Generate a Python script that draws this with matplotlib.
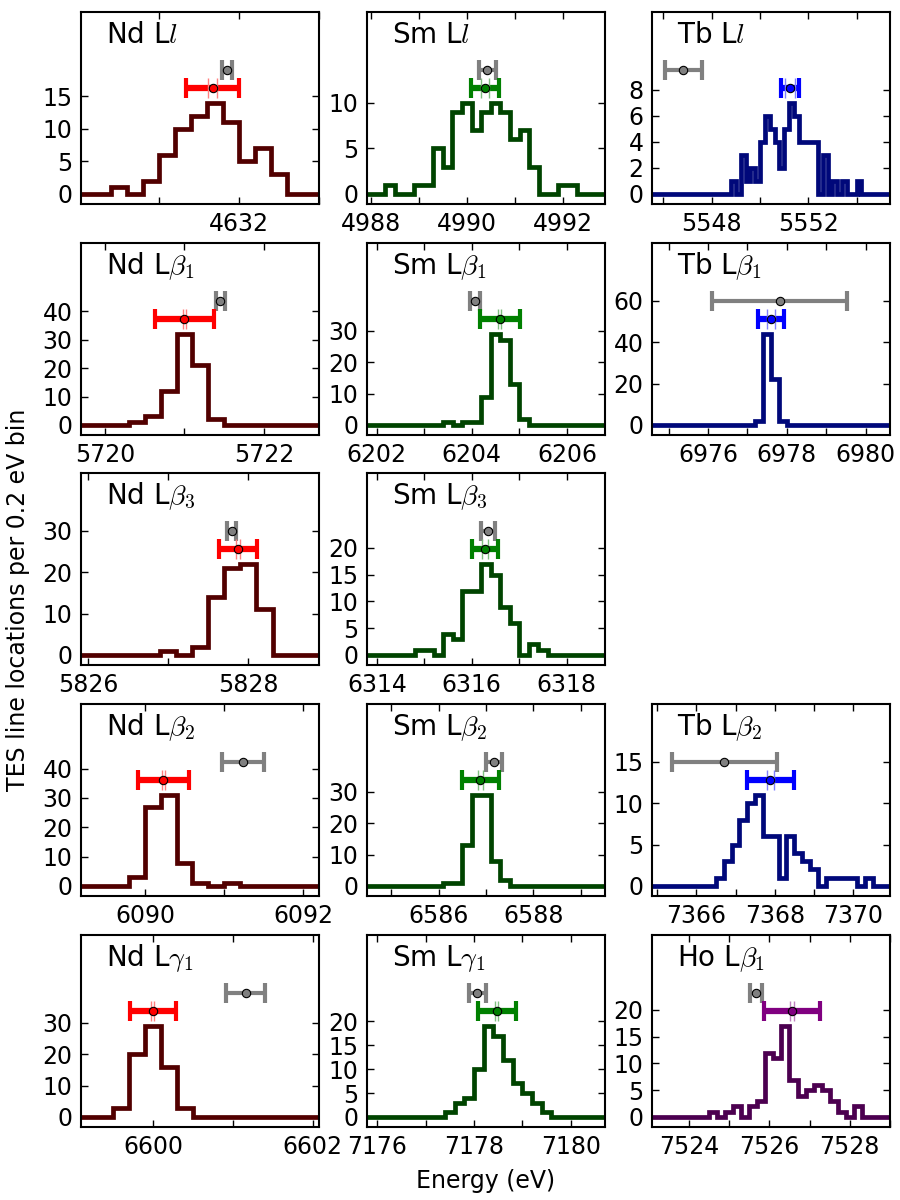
import numpy as np
import matplotlib
matplotlib.use('Agg')
import matplotlib.pyplot as plt
from matplotlib.colors import to_rgb

plt.rcParams['font.family'] = 'DejaVu Sans'
plt.rcParams['mathtext.fontset'] = 'cm'
plt.rcParams['xtick.direction'] = 'in'
plt.rcParams['ytick.direction'] = 'in'
plt.rcParams['xtick.top'] = True
plt.rcParams['ytick.right'] = True
plt.rcParams['xtick.major.size'] = 5
plt.rcParams['ytick.major.size'] = 5
plt.rcParams['axes.linewidth'] = 1.5

BIN = 0.2

# panels in row-major order, None = empty slot
titles = ['Nd L$l$', 'Sm L$l$', 'Tb L$l$',
          r'Nd L$\beta_1$', r'Sm L$\beta_1$', r'Tb L$\beta_1$',
          r'Nd L$\beta_3$', r'Sm L$\beta_3$', None,
          r'Nd L$\beta_2$', r'Sm L$\beta_2$', r'Tb L$\beta_2$',
          r'Nd L$\gamma_1$', r'Sm L$\gamma_1$', r'Ho L$\beta_1$']

elements = ['Nd', 'Sm', 'Tb', 'Nd', 'Sm', 'Tb', 'Nd', 'Sm', None,
            'Nd', 'Sm', 'Tb', 'Nd', 'Sm', 'Ho']

xlims = [(4630.02, 4633.0), (4987.92, 4992.88), (5545.53, 5555.38),
         (5719.7, 5722.69), (6201.8, 6206.8), (6974.58, 6980.62),
         (5825.91, 5828.88), (6313.79, 6318.81), None,
         (6089.19, 6092.2), (6584.49, 6589.51), (7364.87, 7370.94),
         (6599.1, 6602.08), (7175.79, 7180.71), (7523.08, 7529.0)]

xtick_steps = [1, 1, 2, 1, 1, 1, 1, 1, None, 1, 1, 1, 1, 1, 1]

# first bin edge of each histogram (0.2 eV bins)
bin_starts = [4630.4, 4988.3, 5548.8,
              5720.3, 6203.4, 6977.2,
              5826.9, 6314.8, None,
              6089.8, 6586.1, 7366.5,
              6599.5, 7177.4, 7524.5]

counts = [
    [1, 0, 2, 6, 10, 12, 14, 11, 5, 7, 3],
    [1, 0, 0, 1, 1, 5, 3, 9, 10, 7, 9, 10, 9, 6, 7, 3, 0, 0, 1, 1],
    [1, 0, 3, 1, 2, 1, 4, 6, 5, 4, 2, 5, 7, 6, 4, 4, 4, 4, 0, 3, 0, 1, 0, 1, 0, 0, 1],
    [1, 3, 12, 32, 21, 2],
    [1, 0, 1, 1, 9, 29, 27, 13, 2],
    [2, 44, 22, 2],
    [1, 0, 2, 14, 21, 22, 11],
    [1, 1, 0, 4, 3, 12, 12, 17, 15, 9, 6, 0, 2, 1],
    None,
    [3, 27, 31, 8, 1, 0, 1],
    [1, 1, 13, 29, 29, 8, 2],
    [1, 3, 5, 8, 10, 11, 6, 6, 1, 6, 4, 3, 2, 0, 1, 1, 1, 1, 0, 1],
    [3, 20, 29, 16, 3],
    [1, 3, 4, 10, 19, 17, 12, 7, 5, 3, 1],
    [1, 0, 1, 2, 0, 2, 3, 12, 11, 17, 7, 4, 5, 6, 5, 3, 1, 0, 2],
]

# TES fitted line energy, total and statistical uncertainty
tes_center = [4631.67, 4990.38, 5551.24, 5721.0, 6204.59, 6977.59,
              5827.87, 6316.28, None, 6090.23, 6586.88, 7367.89,
              6600.0, 7178.47, 7526.56]
tes_err = [0.33, 0.285, 0.37, 0.37, 0.42, 0.33, 0.24, 0.28, None,
           0.32, 0.39, 0.59, 0.29, 0.39, 0.7]
tes_stat = [0.055, 0.087, 0.2, 0.02, 0.035, 0.1, 0.03, 0.056, None,
            0.02, 0.05, 0.09, 0.02, 0.03, 0.04]

# reference (literature) energies
ref_center = [4631.85, 4990.43, 5546.83, 5721.45, 6204.07, 6977.82,
              5827.79, 6316.35, None, 6091.24, 6587.17, 7366.71,
              6601.16, 7178.07, 7525.67]
ref_err = [0.065, 0.18, 0.76, 0.06, 0.1, 1.72, 0.055, 0.15, None,
           0.27, 0.16, 1.34, 0.25, 0.18, 0.15]

yticks = [[0, 5, 10, 15], [0, 5, 10], [0, 2, 4, 6, 8],
          [0, 10, 20, 30, 40], [0, 10, 20, 30], [0, 20, 40, 60],
          [0, 10, 20, 30], [0, 5, 10, 15, 20], None,
          [0, 10, 20, 30, 40], [0, 10, 20, 30], [0, 5, 10, 15],
          [0, 10, 20, 30], [0, 5, 10, 15, 20], [0, 5, 10, 15, 20]]

colors = {'Nd': ('red', '#520000'),
          'Sm': ('green', '#004400'),
          'Tb': ('blue', '#00087a'),
          'Ho': ('purple', '#4c0050')}

col_left = [81, 367, 652]
row_top = [12, 243, 473, 704, 935]
W, H = 900., 1200.
aw, ah = 238, 192

fig = plt.figure(figsize=(9, 12), dpi=100)

for i, title in enumerate(titles):
    if title is None:
        continue
    r, c = divmod(i, 3)
    ax = fig.add_axes([col_left[c] / W, 1 - (row_top[r] + ah) / H, aw / W, ah / H])
    ecol, hcol = colors[elements[i]]
    lo, hi = xlims[i]

    # histogram of line locations
    cts = np.array(counts[i], dtype=float)
    edges = bin_starts[i] + BIN * np.arange(len(cts) + 1)
    vals = np.concatenate([[0], cts, [0]])
    edges = np.concatenate([[lo - 5], edges, [hi + 5]])
    ax.stairs(vals, edges, baseline=None, color=hcol, lw=3.4, zorder=2)

    cmax = cts.max()
    top = 2 * cmax
    ax.set_ylim(-0.055 * top, top)
    ax.set_xlim(lo, hi)

    # reference energy
    y_ref = 1.36 * cmax
    ax.errorbar(ref_center[i], y_ref, xerr=ref_err[i], fmt='none', ecolor='gray',
                elinewidth=3, capsize=7, capthick=3, zorder=3)
    ax.plot(ref_center[i], y_ref, 'o', mfc='gray', mec='k', ms=6, mew=0.8, zorder=6)

    # TES result
    y_tes = 1.17 * cmax
    ax.errorbar(tes_center[i], y_tes, xerr=tes_err[i], fmt='none', ecolor=ecol,
                elinewidth=4.5, capsize=7.5, capthick=3, zorder=4)
    light = tuple(0.5 * np.array(to_rgb(ecol)) + 0.5)
    ax.errorbar(tes_center[i], y_tes, xerr=tes_stat[i], fmt='none', ecolor=light,
                elinewidth=1, capsize=7.5, capthick=1, zorder=5)
    ax.plot(tes_center[i], y_tes, 'o', mfc=ecol, mec='k', ms=6, mew=0.8, zorder=6)

    # ticks
    step = xtick_steps[i]
    ticks = np.arange(np.ceil(lo / step) * step, hi + 1e-6, step)
    ax.set_xticks(ticks)
    ax.set_xticklabels(['%d' % round(t) if round(t) % (2 * step) == 0 else ''
                        for t in ticks], fontsize=17)
    ax.set_yticks(yticks[i])
    ax.set_yticklabels([str(v) for v in yticks[i]], fontsize=17)
    ax.tick_params(width=1, pad=6)

    ax.text(0.105, 0.84, title, transform=ax.transAxes, fontsize=20,
            ha='left', va='baseline')

fig.text(0.02, 0.5, 'TES line locations per 0.2 eV bin', rotation=90,
         fontsize=17, ha='center', va='center')
fig.text(0.54, 0.016, 'Energy (eV)', fontsize=17, ha='center', va='center')

fig.savefig('out.png', dpi=100, facecolor='white')
